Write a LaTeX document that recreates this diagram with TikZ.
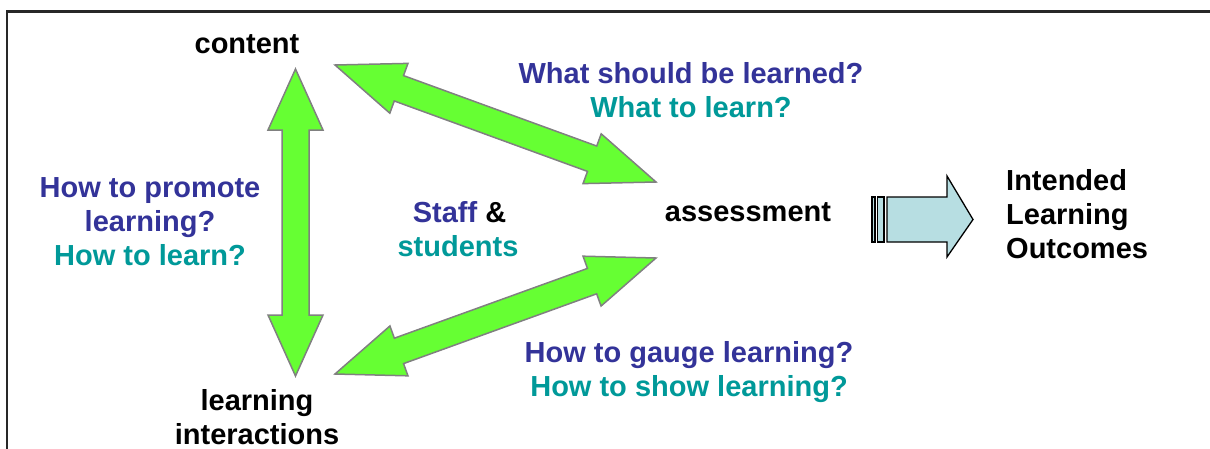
\documentclass[tikz,border=0pt]{standalone}
\usepackage{fontspec}
\setmainfont{Liberation Sans}
\usetikzlibrary{calc}
\definecolor{qblue}{RGB}{51,51,153}
\definecolor{qteal}{RGB}{0,153,153}
\definecolor{agreen}{RGB}{102,255,51}
\definecolor{aborder}{RGB}{128,128,128}
\definecolor{ilofill}{RGB}{183,222,226}
\definecolor{framec}{RGB}{40,40,40}
\newcommand\dblarrow[5]{%
  \coordinate (HA) at ($(#1)!#3!(#2)$);
  \coordinate (HB) at ($(#2)!#3!(#1)$);
  \filldraw[dbl] (#1) -- ($(HA)!#4!90:(#2)$) -- ($(HA)!#5!90:(#2)$)
    -- ($(HB)!#5!-90:(#1)$) -- ($(HB)!#4!-90:(#1)$) -- (#2)
    -- ($(HB)!#4!90:(#1)$) -- ($(HB)!#5!90:(#1)$)
    -- ($(HA)!#5!-90:(#2)$) -- ($(HA)!#4!-90:(#2)$) -- cycle;}
\begin{document}
\begin{tikzpicture}[x=1pt,y=-1pt,
  lbl/.style={font=\fontsize{29}{34}\selectfont\bfseries, inner sep=0pt, align=center},
  dbl/.style={fill=agreen, draw=aborder, line width=1.5pt, line join=miter},
  ilo/.style={fill=ilofill, draw=black, line width=1.3pt, line join=miter}]
\useasboundingbox (0,0) rectangle (1210,448);
\clip (0,0) rectangle (1210,448);
\fill[white] (0,0) rectangle (1210,448);
\draw[line width=2.5pt, draw=framec] (7,11.5) rectangle (1240,480);

% labels
\node[lbl] (content) at (247,44) {content};
\node[lbl] (assess) at (748,212) {assessment};
\node[lbl] (learn) at (257,417) {learning\\interactions};
\node[lbl] (q1) at (691,90) {\color{qblue}What should be learned?\\\color{qteal}What to learn?};
\node[lbl] (q3) at (150,222) {\color{qblue}How to promote\\\color{qblue}learning?\\\color{qteal}How to learn?};
\node[lbl] (q2) at (689,372) {\color{qblue}How to gauge learning?\\\color{qteal}How to show learning?};
\node[lbl] (staff) at (458,229) {\hspace*{3pt}{\color{qblue}Staff} \&\\\color{qteal}students};
\node[lbl, anchor=west, align=left] (ilo) at (1006,214) {Intended\\Learning\\Outcomes};

% arrow tips
\coordinate (c1) at (295.5,69);
\coordinate (l1) at (295.5,376);
\coordinate (c2) at (335,65);
\coordinate (a1) at (656,182);
\coordinate (l2) at (335,374);
\coordinate (a2) at (656,258);

\dblarrow{c1}{l1}{61pt}{27.5pt}{13.5pt}
\dblarrow{c2}{a1}{68pt}{26.5pt}{13.5pt}
\dblarrow{l2}{a2}{68pt}{26.5pt}{13.5pt}

% block arrow to ILO
\draw[ilo] (872,197) rectangle (875,242);
\draw[ilo] (877.5,197) rectangle (884,242);
\draw[ilo] (887,197) -- (947,197) -- (947,176) -- (973,219.5) -- (947,257) -- (947,242) -- (887,242) -- cycle;
\end{tikzpicture}
\end{document}
